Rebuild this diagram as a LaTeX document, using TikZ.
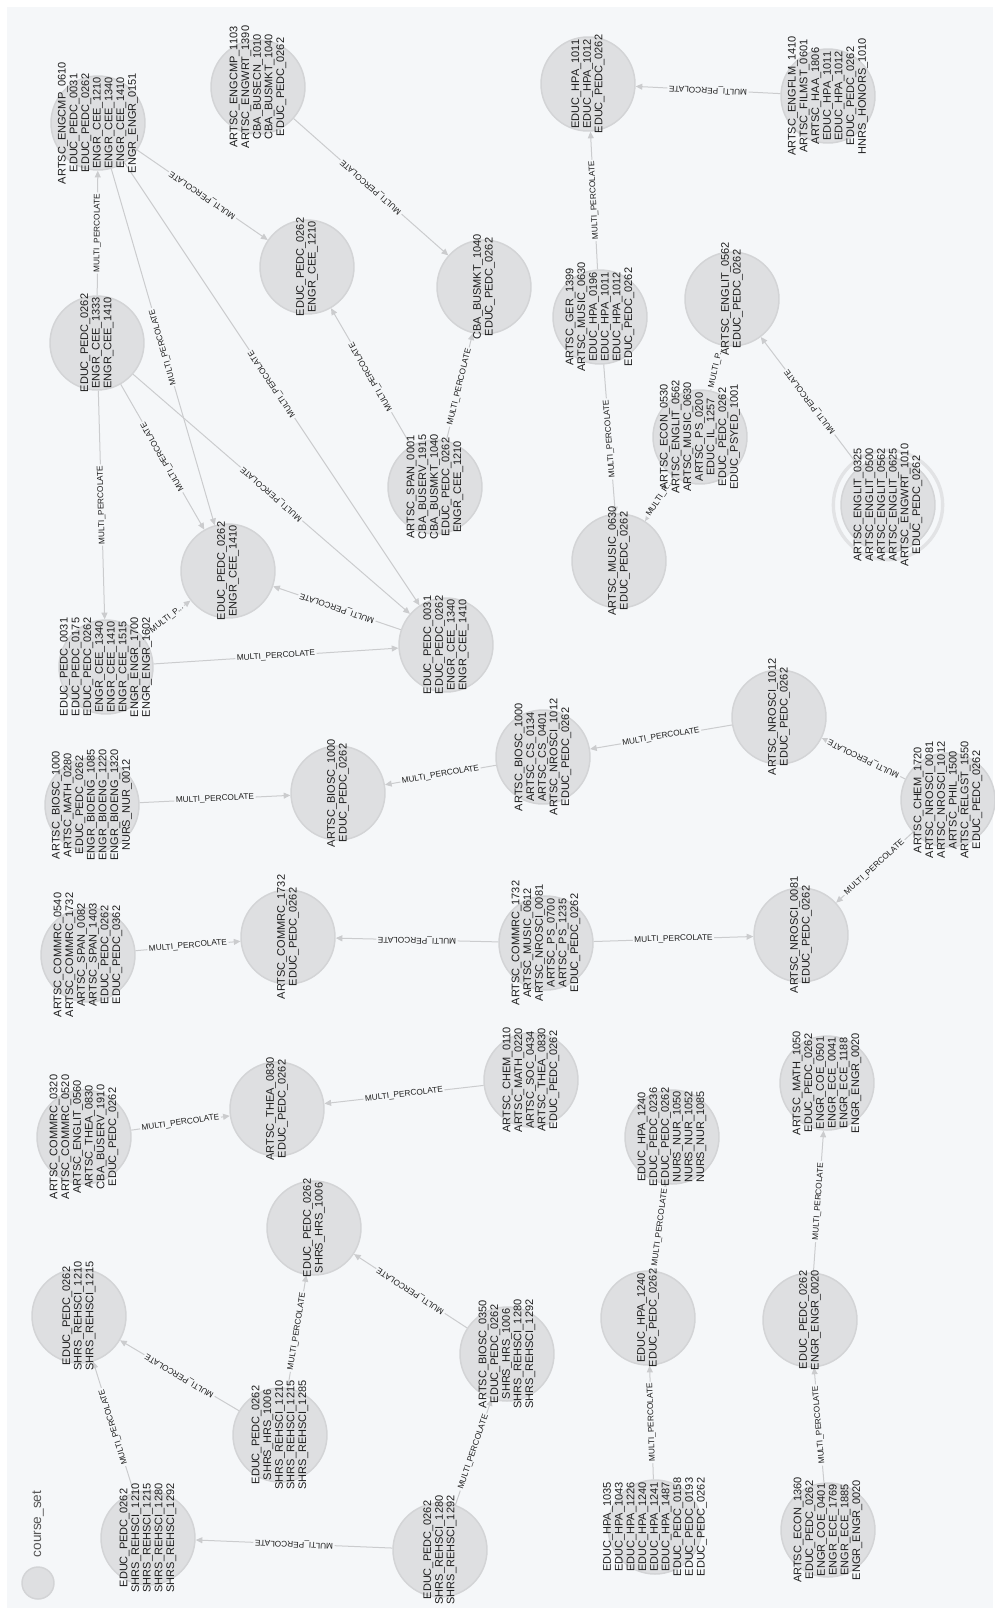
\documentclass[tikz,border=0pt]{standalone}
\usepackage{fontspec}
\setmainfont{Liberation Sans}
\usetikzlibrary{arrows.meta}
\definecolor{bgc}{HTML}{F5F7F9}
\definecolor{nodefill}{HTML}{DEDFE1}
\definecolor{nodeedge}{HTML}{D3D4D6}
\definecolor{ringc}{HTML}{E2E3E5}
\definecolor{edgecol}{HTML}{CBCCCE}
\definecolor{txtc}{HTML}{1E1E1E}
\definecolor{legc}{HTML}{555555}
\tikzset{
 cs/.style={circle, fill=nodefill, draw=nodeedge, line width=1.1pt, minimum size=70.5pt, inner sep=0pt},
 ctext/.style={rotate=90, align=center, font=\fontsize{8.25pt}{8.8pt}\selectfont, text=txtc, inner sep=0pt},
 rel/.style={draw=edgecol, line width=0.75pt, -{Triangle[length=5pt,width=4.5pt]}},
 relr/.style={draw=edgecol, line width=0.75pt, {Triangle[length=5pt,width=4.5pt]}-},
 lbl/.style={midway, sloped, allow upside down, fill=bgc, inner sep=1.2pt, font=\fontsize{6.2pt}{7pt}\selectfont, text=txtc},
}
\begin{document}
\begin{tikzpicture}[x=0.75pt, y=-0.75pt]
\useasboundingbox (0,0) rectangle (995,1611);
\fill[white] (0,0) rectangle (995,1611);
\fill[bgc] (7,7) rectangle (993,1608);

% circles
\node[cs] (n1) at (98,123) {};
\node[cs] (n2) at (258,87) {};
\node[cs] (n3) at (307,267) {};
\node[cs] (n4) at (97,343) {};
\node[cs] (n5) at (588,84) {};
\node[cs] (n6) at (484,287) {};
\node[cs] (n7) at (600,317) {};
\node[cs] (n8) at (828,96) {};
\node[cs] (n9) at (732,299) {};
\node[cs] (n10) at (228,571) {};
\node[cs] (n11) at (106,667) {};
\node[cs] (n12) at (435,487) {};
\node[cs] (n13) at (446,645) {};
\node[cs] (n14) at (619,561) {};
\node[cs] (n15) at (543,757) {};
\node[cs] (n16) at (338,793) {};
\node[cs] (n17) at (700,437) {};
\draw[draw=ringc, line width=2.5pt] (888,505) circle[radius=41pt];
\node[cs] (n18) at (888,505) {};
\node[cs] (n19) at (779,717) {};
\node[cs] (n20) at (948,800) {};
\node[cs] (n21) at (92,805) {};
\node[cs] (n22) at (88,955) {};
\node[cs] (n23) at (288,937) {};
\node[cs] (n24) at (84,1137) {};
\node[cs] (n25) at (277,1109) {};
\node[cs] (n26) at (546,943) {};
\node[cs] (n27) at (531,1080) {};
\node[cs] (n28) at (801,935) {};
\node[cs] (n29) at (827,1083) {};
\node[cs] (n30) at (672,1137) {};
\node[cs] (n31) at (79,1316) {};
\node[cs] (n32) at (280,1435) {};
\node[cs] (n33) at (148,1538) {};
\node[cs] (n34) at (314,1228) {};
\node[cs] (n35) at (507,1354) {};
\node[cs] (n36) at (440,1550) {};
\node[cs] (n37) at (648,1318) {};
\node[cs] (n38) at (655,1527) {};
\node[cs] (n39) at (828,1530) {};
\node[cs] (n40) at (810,1320) {};

% legend
\node[cs, minimum size=24pt] (leg) at (38,1583) {};
\node[rotate=90, font=\fontsize{10.2pt}{12pt}\selectfont, text=legc, inner sep=0pt] (legtext) at (38,1524) {course\_set};

% edges (drawn from lower node to upper node)
\draw[rel]  (n4) -- node[lbl]{MULTI\_PERCOLATE} (n1);
\draw[relr] (n3) -- node[lbl]{MULTI\_PERCOLATE} (n1);
\draw[relr] (n10) -- node[lbl]{MULTI\_PERCOLATE} (n1);
\draw[relr] (n13) -- node[lbl]{MULTI\_PERCOLATE} (n1);
\draw[relr] (n10) -- node[lbl]{MULTI\_PERCOLATE} (n4);
\draw[relr] (n13) -- node[lbl]{MULTI\_PERCOLATE} (n4);
\draw[relr] (n11) -- node[lbl]{MULTI\_PERCOLATE} (n4);
\draw[rel]  (n11) -- node[lbl]{MULTI\_P...} (n10);
\draw[rel]  (n11) -- node[lbl]{MULTI\_PERCOLATE} (n13);
\draw[rel]  (n13) -- node[lbl]{MULTI\_PERCOLATE} (n10);
\draw[rel]  (n12) -- node[lbl]{MULTI\_PERCOLATE} (n3);
\draw[rel]  (n12) -- node[lbl]{MULTI\_PERCOLATE} (n6);
\draw[relr] (n6) -- node[lbl]{MULTI\_PERCOLATE} (n2);
\draw[rel]  (n7) -- node[lbl]{MULTI\_PERCOLATE} (n5);
\draw[rel]  (n8) -- node[lbl]{MULTI\_PERCOLATE} (n5);
\draw[relr] (n14) -- node[lbl]{MULTI\_PERCOLATE} (n7);
\draw[relr] (n14) -- node[lbl]{MULTI\_P...} (n17);
\draw[rel]  (n17) -- node[lbl]{MULTI\_P...} (n9);
\draw[rel]  (n18) -- node[lbl]{MULTI\_PERCOLATE} (n9);
\draw[rel]  (n21) -- node[lbl]{MULTI\_PERCOLATE} (n16);
\draw[relr] (n16) -- node[lbl]{MULTI\_PERCOLATE} (n15);
\draw[relr] (n15) -- node[lbl]{MULTI\_PERCOLATE} (n19);
\draw[rel]  (n20) -- node[lbl]{MULTI\_PERCOLATE} (n19);
\draw[relr] (n28) -- node[lbl]{MULTI\_PERCOLATE} (n20);
\draw[rel]  (n26) -- node[lbl]{MULTI\_PERCOLATE} (n28);
\draw[rel]  (n26) -- node[lbl]{MULTI\_PERCOLATE} (n23);
\draw[rel]  (n22) -- node[lbl]{MULTI\_PERCOLATE} (n23);
\draw[rel]  (n24) -- node[lbl]{MULTI\_PERCOLATE} (n25);
\draw[relr] (n25) -- node[lbl]{MULTI\_PERCOLATE} (n27);
\draw[rel]  (n37) -- node[lbl]{MULTI\_PERCOLATE} (n30);
\draw[rel]  (n38) -- node[lbl]{MULTI\_PERCOLATE} (n37);
\draw[rel]  (n40) -- node[lbl]{MULTI\_PERCOLATE} (n29);
\draw[rel]  (n39) -- node[lbl]{MULTI\_PERCOLATE} (n40);
\draw[rel]  (n32) -- node[lbl]{MULTI\_PERCOLATE} (n31);
\draw[rel]  (n33) -- node[lbl]{MULTI\_PERCOLATE} (n31);
\draw[rel]  (n32) -- node[lbl]{MULTI\_PERCOLATE} (n34);
\draw[rel]  (n35) -- node[lbl]{MULTI\_PERCOLATE} (n34);
\draw[rel]  (n36) -- node[lbl]{MULTI\_PERCOLATE} (n33);
\draw[rel]  (n36) -- node[lbl]{MULTI\_PERCOLATE} (n35);

% texts
\node[ctext] (t1) at (n1) {ARTSC\_ENGCMP\_0610\\EDUC\_PEDC\_0031\\EDUC\_PEDC\_0262\\ENGR\_CEE\_1210\\ENGR\_CEE\_1340\\ENGR\_CEE\_1410\\ENGR\_ENGR\_0151};
\node[ctext] (t2) at (n2) {ARTSC\_ENGCMP\_1103\\ARTSC\_ENGWRT\_1390\\CBA\_BUSECN\_1010\\CBA\_BUSMKT\_1040\\EDUC\_PEDC\_0262};
\node[ctext] (t3) at (n3) {EDUC\_PEDC\_0262\\ENGR\_CEE\_1210};
\node[ctext] (t4) at (n4) {EDUC\_PEDC\_0262\\ENGR\_CEE\_1333\\ENGR\_CEE\_1410};
\node[ctext] (t5) at (n5) {EDUC\_HPA\_1011\\EDUC\_HPA\_1012\\EDUC\_PEDC\_0262};
\node[ctext] (t6) at (n6) {CBA\_BUSMKT\_1040\\EDUC\_PEDC\_0262};
\node[ctext] (t7) at (n7) {ARTSC\_GER\_1399\\ARTSC\_MUSIC\_0630\\EDUC\_HPA\_0196\\EDUC\_HPA\_1011\\EDUC\_HPA\_1012\\EDUC\_PEDC\_0262};
\node[ctext] (t8) at (n8) {ARTSC\_ENGFLM\_1410\\ARTSC\_FILMST\_0601\\ARTSC\_HAA\_1806\\EDUC\_HPA\_1011\\EDUC\_HPA\_1012\\EDUC\_PEDC\_0262\\HNRS\_HONORS\_1010};
\node[ctext] (t9) at (n9) {ARTSC\_ENGLIT\_0562\\EDUC\_PEDC\_0262};
\node[ctext] (t10) at (n10) {EDUC\_PEDC\_0262\\ENGR\_CEE\_1410};
\node[ctext] (t11) at (n11) {EDUC\_PEDC\_0031\\EDUC\_PEDC\_0175\\EDUC\_PEDC\_0262\\ENGR\_CEE\_1340\\ENGR\_CEE\_1410\\ENGR\_CEE\_1515\\ENGR\_ENGR\_1700\\ENGR\_ENGR\_1602};
\node[ctext] (t12) at (n12) {ARTSC\_SPAN\_0001\\CBA\_BUSERV\_1915\\CBA\_BUSMKT\_1040\\EDUC\_PEDC\_0262\\ENGR\_CEE\_1210};
\node[ctext] (t13) at (n13) {EDUC\_PEDC\_0031\\EDUC\_PEDC\_0262\\ENGR\_CEE\_1340\\ENGR\_CEE\_1410};
\node[ctext] (t14) at (n14) {ARTSC\_MUSIC\_0630\\EDUC\_PEDC\_0262};
\node[ctext] (t15) at (n15) {ARTSC\_BIOSC\_1000\\ARTSC\_CS\_0134\\ARTSC\_CS\_0401\\ARTSC\_NROSCI\_1012\\EDUC\_PEDC\_0262};
\node[ctext] (t16) at (n16) {ARTSC\_BIOSC\_1000\\EDUC\_PEDC\_0262};
\node[ctext] (t17) at (n17) {ARTSC\_ECON\_0530\\ARTSC\_ENGLIT\_0562\\ARTSC\_MUSIC\_0630\\ARTSC\_PS\_0200\\EDUC\_IL\_1257\\EDUC\_PEDC\_0262\\EDUC\_PSYED\_1001};
\node[ctext] (t18) at (n18) {ARTSC\_ENGLIT\_0325\\ARTSC\_ENGLIT\_0500\\ARTSC\_ENGLIT\_0562\\ARTSC\_ENGLIT\_0625\\ARTSC\_ENGWRT\_1010\\EDUC\_PEDC\_0262};
\node[ctext] (t19) at (n19) {ARTSC\_NROSCI\_1012\\EDUC\_PEDC\_0262};
\node[ctext] (t20) at (n20) {ARTSC\_CHEM\_1720\\ARTSC\_NROSCI\_0081\\ARTSC\_NROSCI\_1012\\ARTSC\_PHIL\_1500\\ARTSC\_RELGST\_1550\\EDUC\_PEDC\_0262};
\node[ctext] (t21) at (n21) {ARTSC\_BIOSC\_1000\\ARTSC\_MATH\_0280\\EDUC\_PEDC\_0262\\ENGR\_BIOENG\_1085\\ENGR\_BIOENG\_1220\\ENGR\_BIOENG\_1320\\NURS\_NUR\_0012};
\node[ctext] (t22) at (n22) {ARTSC\_COMMRC\_0540\\ARTSC\_COMMRC\_1732\\ARTSC\_SPAN\_0082\\ARTSC\_SPAN\_1403\\EDUC\_PEDC\_0262\\EDUC\_PEDC\_0362};
\node[ctext] (t23) at (n23) {ARTSC\_COMMRC\_1732\\EDUC\_PEDC\_0262};
\node[ctext] (t24) at (n24) {ARTSC\_COMMRC\_0320\\ARTSC\_COMMRC\_0520\\ARTSC\_ENGLIT\_0560\\ARTSC\_THEA\_0830\\CBA\_BUSERV\_1910\\EDUC\_PEDC\_0262};
\node[ctext] (t25) at (n25) {ARTSC\_THEA\_0830\\EDUC\_PEDC\_0262};
\node[ctext] (t26) at (n26) {ARTSC\_COMMRC\_1732\\ARTSC\_MUSIC\_0612\\ARTSC\_NROSCI\_0081\\ARTSC\_PS\_0700\\ARTSC\_PS\_1235\\EDUC\_PEDC\_0262};
\node[ctext] (t27) at (n27) {ARTSC\_CHEM\_0110\\ARTSC\_MATH\_0220\\ARTSC\_SOC\_0434\\ARTSC\_THEA\_0830\\EDUC\_PEDC\_0262};
\node[ctext] (t28) at (n28) {ARTSC\_NROSCI\_0081\\EDUC\_PEDC\_0262};
\node[ctext] (t29) at (n29) {ARTSC\_MATH\_1050\\EDUC\_PEDC\_0262\\ENGR\_COE\_0501\\ENGR\_ECE\_0041\\ENGR\_ECE\_1188\\ENGR\_ENGR\_0020};
\node[ctext] (t30) at (n30) {EDUC\_HPA\_1240\\EDUC\_PEDC\_0236\\EDUC\_PEDC\_0262\\NURS\_NUR\_1050\\NURS\_NUR\_1052\\NURS\_NUR\_1085};
\node[ctext] (t31) at (n31) {EDUC\_PEDC\_0262\\SHRS\_REHSCI\_1210\\SHRS\_REHSCI\_1215};
\node[ctext] (t32) at (n32) {EDUC\_PEDC\_0262\\SHRS\_HRS\_1006\\SHRS\_REHSCI\_1210\\SHRS\_REHSCI\_1215\\SHRS\_REHSCI\_1285};
\node[ctext] (t33) at (n33) {EDUC\_PEDC\_0262\\SHRS\_REHSCI\_1210\\SHRS\_REHSCI\_1215\\SHRS\_REHSCI\_1280\\SHRS\_REHSCI\_1292};
\node[ctext] (t34) at (n34) {EDUC\_PEDC\_0262\\SHRS\_HRS\_1006};
\node[ctext] (t35) at (n35) {ARTSC\_BIOSC\_0350\\EDUC\_PEDC\_0262\\SHRS\_HRS\_1006\\SHRS\_REHSCI\_1280\\SHRS\_REHSCI\_1292};
\node[ctext] (t36) at (n36) {EDUC\_PEDC\_0262\\SHRS\_REHSCI\_1280\\SHRS\_REHSCI\_1292};
\node[ctext] (t37) at (n37) {EDUC\_HPA\_1240\\EDUC\_PEDC\_0262};
\node[ctext] (t38) at (n38) {EDUC\_HPA\_1035\\EDUC\_HPA\_1043\\EDUC\_HPA\_1226\\EDUC\_HPA\_1240\\EDUC\_HPA\_1241\\EDUC\_HPA\_1487\\EDUC\_PEDC\_0158\\EDUC\_PEDC\_0193\\EDUC\_PEDC\_0262};
\node[ctext] (t39) at (n39) {ARTSC\_ECON\_1360\\EDUC\_PEDC\_0262\\ENGR\_COE\_0401\\ENGR\_ECE\_1769\\ENGR\_ECE\_1885\\ENGR\_ENGR\_0020};
\node[ctext] (t40) at (n40) {EDUC\_PEDC\_0262\\ENGR\_ENGR\_0020};
\end{tikzpicture}
\end{document}
